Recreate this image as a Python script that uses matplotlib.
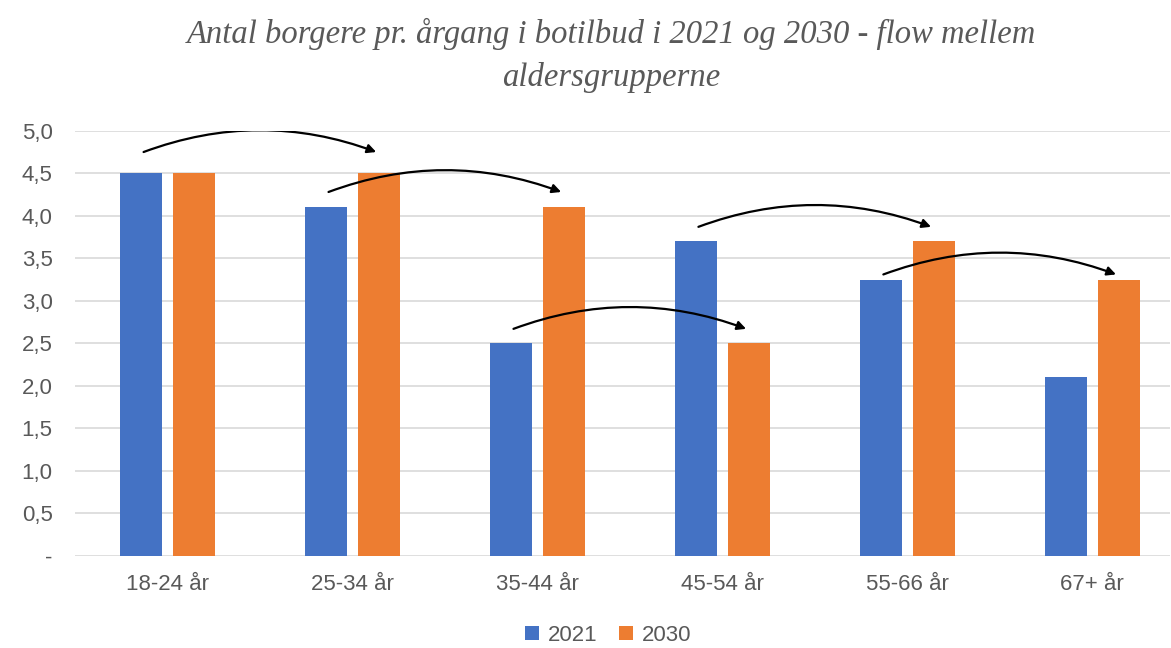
import matplotlib.pyplot as plt
from matplotlib.patches import FancyArrowPatch
import numpy as np

# data
categories = ["18-24 år", "25-34 år", "35-44 år", "45-54 år", "55-66 år", "67+ år"]
values_2021 = [4.5, 4.1, 2.5, 3.7, 3.25, 2.1]
values_2030 = [4.5, 4.5, 4.1, 2.5, 3.7, 3.25]
series_names = ["2021", "2030"]
yticks = [0, 0.5, 1.0, 1.5, 2.0, 2.5, 3.0, 3.5, 4.0, 4.5, 5.0]
ytick_labels = ["-"] + [f"{t:.1f}".replace(".", ",") for t in yticks[1:]]
title = "Antal borgere pr. årgang i botilbud i 2021 og 2030 - flow mellem\naldersgrupperne"
# how far above the bar each flow arrow sits
arrow_lift = [0.24, 0.17, 0.16, 0.16, 0.05]

blue = "#4472C4"
orange = "#ED7D31"
grey = "#595959"

plt.rcParams['font.family'] = ['Liberation Sans', 'DejaVu Sans']

fig = plt.figure(figsize=(11.71, 6.48), dpi=100)
ax = fig.add_axes([0.064, 0.142, 0.935, 0.656])

x = np.arange(len(categories))
w = 0.227
off = 0.143
ax.bar(x - off, values_2021, width=w, color=blue, label=series_names[0], zorder=3)
ax.bar(x + off, values_2030, width=w, color=orange, label=series_names[1], zorder=3)

ax.set_ylim(0, 5)
ax.set_xlim(-0.5, 5.42)
ax.set_yticks(yticks)
ax.set_yticklabels(ytick_labels)
ax.set_xticks(x)
ax.set_xticklabels(categories)
ax.tick_params(axis='both', length=0, labelsize=16, colors=grey)
ax.tick_params(axis='y', pad=16)
ax.tick_params(axis='x', pad=13)
ax.yaxis.grid(True, color="#d9d9d9", lw=1.2, zorder=0)
for s in ax.spines.values():
    s.set_visible(False)

# flow arrows: 2021 bar of one group -> 2030 bar of the next group
for i in range(len(categories) - 1):
    v = values_2021[i] + arrow_lift[i]
    start = (x[i] - off, v)
    end = (x[i + 1] + off, v)
    arr = FancyArrowPatch(start, end, connectionstyle="arc3,rad=-0.19",
                          arrowstyle="-|>", mutation_scale=13, lw=1.6,
                          color="black", zorder=4)
    ax.add_patch(arr)

fig.text(0.522, 0.972, title, ha='center', va='top', fontsize=23.5,
         family=['Liberation Serif', 'DejaVu Serif'], style='italic',
         color=grey, linespacing=1.5)

ax.legend(loc='upper center', bbox_to_anchor=(0.487, -0.115), ncol=2,
          frameon=False, fontsize=16, handlelength=0.6, handleheight=0.6,
          handletextpad=0.4, columnspacing=1.0, labelcolor=grey)

fig.savefig("out.png", dpi=100)
